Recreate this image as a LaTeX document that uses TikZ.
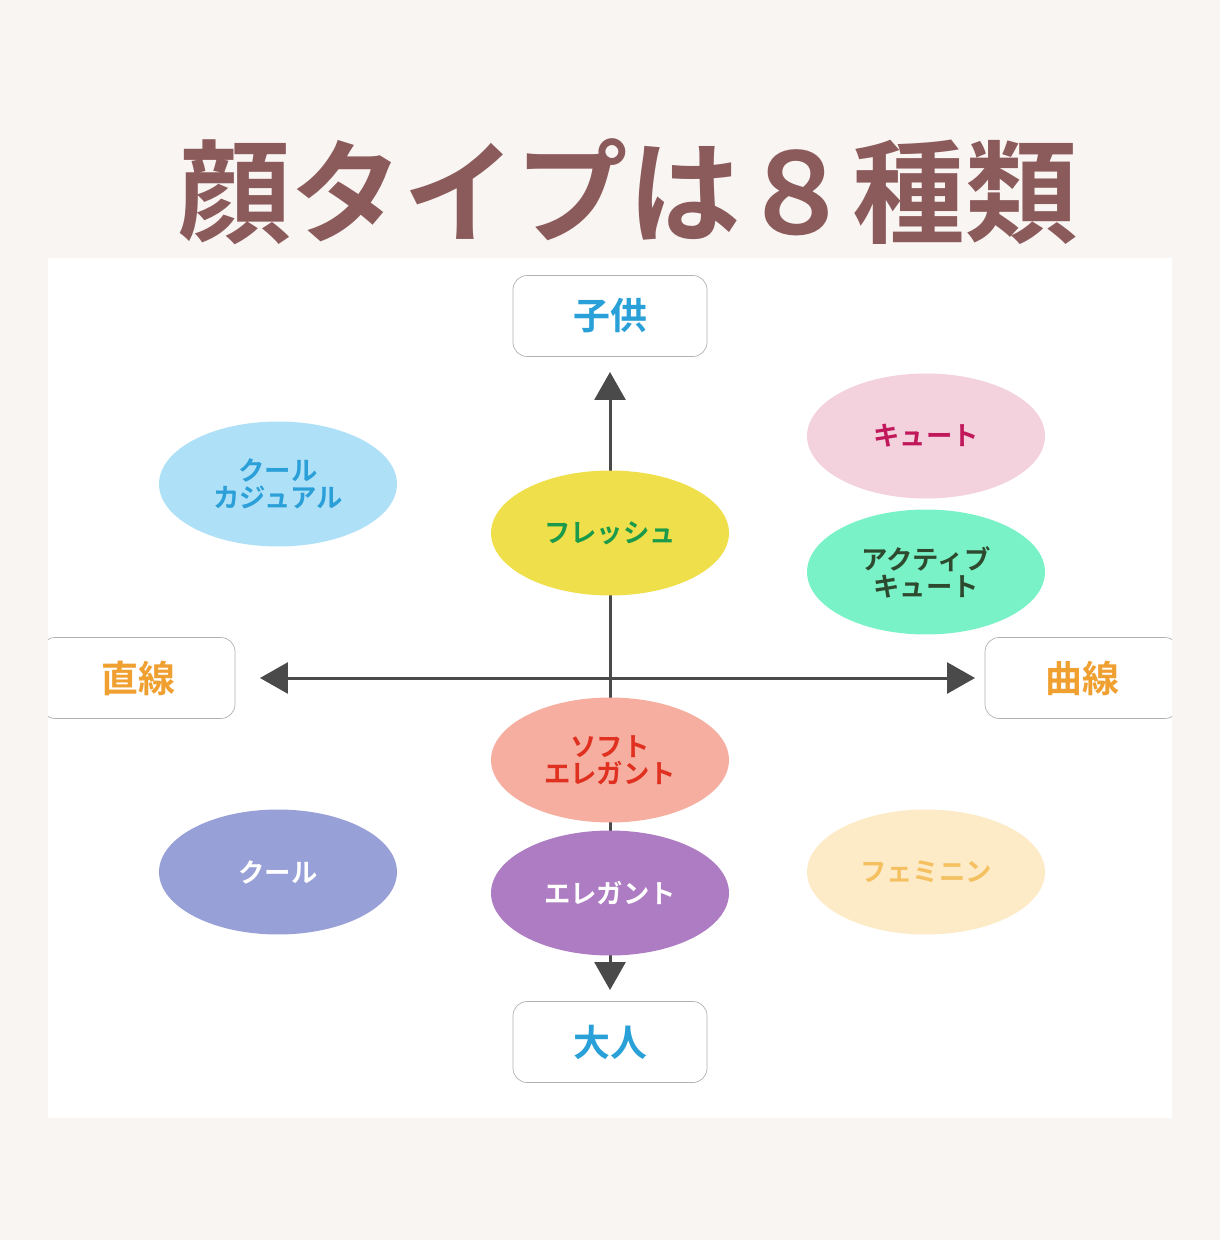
\documentclass[tikz,border=0pt]{standalone}
\usepackage{fontspec}
\newfontfamily\jpfont{Noto Sans CJK JP}[BoldFont={* Bold}]
\usetikzlibrary{arrows.meta,shapes.geometric}
\definecolor{bgpink}{HTML}{F9F5F3}
\definecolor{titlebrown}{HTML}{8B5A5A}
\definecolor{axisgrey}{HTML}{4A4A4A}
\definecolor{boxblue}{HTML}{2AA0D8}
\definecolor{boxorange}{HTML}{F0A030}
\definecolor{ccfill}{HTML}{AEE0F7}\definecolor{cctext}{HTML}{2A9FD8}
\definecolor{cufill}{HTML}{F3D2DE}\definecolor{cutext}{HTML}{C0185A}
\definecolor{frfill}{HTML}{EFDF4A}\definecolor{frtext}{HTML}{1A9A4A}
\definecolor{acfill}{HTML}{7AF2C8}\definecolor{actext}{HTML}{2E4A2E}
\definecolor{sefill}{HTML}{F5AEA0}\definecolor{setext}{HTML}{E03020}
\definecolor{cofill}{HTML}{98A0D8}
\definecolor{elfill}{HTML}{AD7CC2}
\definecolor{fefill}{HTML}{FDEBC8}\definecolor{fetext}{HTML}{F5C060}
\tikzset{
  axis/.style={draw=axisgrey, line width=1.7pt, -{Triangle[length=0.56cm,width=0.62cm]}},
  label box/.style={draw=gray!60, fill=white, rounded corners=8pt, minimum width=3.88cm,
    minimum height=1.62cm, font=\jpfont\bfseries\fontsize{21}{24}\selectfont},
  face/.style={ellipse, minimum width=4.76cm, minimum height=2.5cm, inner sep=0pt,
    align=center, font=\jpfont\bfseries\fontsize{15}{15.5}\selectfont}
}
\begin{document}
\begin{tikzpicture}[x=0.02cm, y=-0.02cm]
  \fill[bgpink] (0,0) rectangle (1220,1240);
  \fill[white] (48,258) rectangle (1172,1118);
  \node[text=titlebrown, font=\jpfont\bfseries\fontsize{64}{70}\selectfont] (title) at (628,192) {顔タイプは８種類};
  % axes
  \coordinate (vc) at (610,678);
  \coordinate (vt) at (610,372);
  \coordinate (vb) at (610,990);
  \coordinate (hl) at (260,678);
  \coordinate (hr) at (975,678);
  \draw[axis] (vc) -- (vt);
  \draw[axis] (vc) -- (vb);
  \draw[axis] (vc) -- (hl);
  \draw[axis] (vc) -- (hr);
  % end labels
  \node[label box, text=boxblue] (child) at (610,316) {子供};
  \node[label box, text=boxblue] (adult) at (610,1042) {大人};
  \begin{scope}
    \clip (48,258) rectangle (1172,1118);
    \node[label box, text=boxorange] (straight) at (138,678) {直線};
    \node[label box, text=boxorange] (curve) at (1082,678) {曲線};
  \end{scope}
  % face types
  \node[face, fill=ccfill, text=cctext] (coolcasual) at (278,484) {クール\\カジュアル};
  \node[face, fill=cufill, text=cutext] (cute) at (926,436) {キュート};
  \node[face, fill=frfill, text=frtext] (fresh) at (610,533) {フレッシュ};
  \node[face, fill=acfill, text=actext] (activecute) at (926,572) {アクティブ\\キュート};
  \node[face, fill=sefill, text=setext] (softelegant) at (610,760) {ソフト\\エレガント};
  \node[face, fill=cofill, text=white] (cool) at (278,872) {クール};
  \node[face, fill=elfill, text=white] (elegant) at (610,893) {エレガント};
  \node[face, fill=fefill, text=fetext] (feminine) at (926,872) {フェミニン};
\end{tikzpicture}
\end{document}
